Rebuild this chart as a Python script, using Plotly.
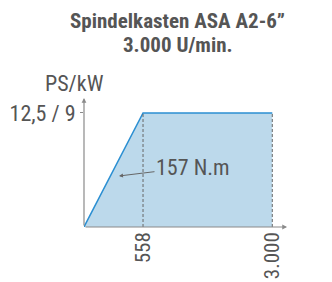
import plotly.graph_objects as go

# data
rpm_labels = ["558", "3.000"]
rpm_pos = [0, 1.0, 3.19]          # schematic axis positions for 0, 558, 3000 rpm
power = [0, 12.5, 12.5]
y_tick_val = [12.5]
y_tick_text = ["12,5 / 9"]
torque_label = "157 N.m"
title_lines = ["Spindelkasten ASA A2-6”", "3.000 U/min."]

FONT = "Liberation Sans Narrow, Roboto Condensed, Roboto, sans-serif"
TXT = "#555555"
AX = "#8a8a8a"

fig = go.Figure()
fig.add_trace(go.Scatter(x=rpm_pos, y=power, mode="lines", fill="tozeroy",
                         fillcolor="#bcd9eb", line=dict(color="#2b8fd2", width=1.5),
                         hoverinfo="skip", showlegend=False))
for xp, yp in zip(rpm_pos[1:], power[1:]):
    fig.add_trace(go.Scatter(x=[xp, xp], y=[0, yp], mode="lines",
                             line=dict(color="#666666", width=1, dash="3px,2px"),
                             hoverinfo="skip", showlegend=False))

xmax = 3.49
ymax = 14.14
# axes with arrows
fig.add_annotation(x=0, y=ymax, ax=0, ay=0, xref="x", yref="y", axref="x", ayref="y",
                   showarrow=True, arrowhead=2, arrowsize=0.8, arrowwidth=1.2,
                   arrowcolor=AX, text="")
fig.add_annotation(x=3.44, y=0, ax=0, ay=0, xref="x", yref="y", axref="x", ayref="y",
                   showarrow=True, arrowhead=2, arrowsize=0.8, arrowwidth=1.2,
                   arrowcolor=AX, text="")
fig.add_annotation(x=3.6, y=0, xref="x", yref="y", text="rpm", showarrow=False,
                   xanchor="left", yanchor="middle", yshift=1,
                   font=dict(size=22, color=TXT, family=FONT))
fig.add_annotation(x=0, y=ymax, xref="x", yref="y", text="PS/kW", showarrow=False,
                   xanchor="right", yanchor="middle", xshift=22, yshift=15,
                   font=dict(size=22, color=TXT, family=FONT))
fig.add_annotation(x=0.593, y=5.59, xref="x", yref="y", text=torque_label,
                   showarrow=True, arrowhead=2, arrowsize=0.8, arrowwidth=1,
                   arrowcolor="#666666", ax=74, ay=-9,
                   font=dict(size=22, color=TXT, family=FONT))
for line, ty in zip(title_lines, [1.597, 1.411]):
    fig.add_annotation(x=0.454, y=ty, xref="paper", yref="paper",
                       text="<b>" + line + "</b>", showarrow=False,
                       xanchor="center", yanchor="middle",
                       font=dict(size=21, color=TXT, family=FONT))

fig.update_layout(
    width=332, height=282,
    margin=dict(l=76, r=50, t=90, b=63, autoexpand=False),
    paper_bgcolor="white", plot_bgcolor="white",
    xaxis=dict(range=[0, xmax], showgrid=False, zeroline=False, showline=False,
               automargin=False,
               tickvals=rpm_pos[1:], ticktext=rpm_labels, tickangle=-90,
               ticks="", tickfont=dict(size=21, color=TXT, family=FONT)),
    yaxis=dict(range=[0, ymax], showgrid=False, zeroline=False, showline=False,
               automargin=False,
               tickvals=y_tick_val, ticktext=y_tick_text, ticks="outside",
               ticklen=3, tickcolor=AX,
               tickfont=dict(size=22, color=TXT, family=FONT)),
)
fig.write_html("out.html")
